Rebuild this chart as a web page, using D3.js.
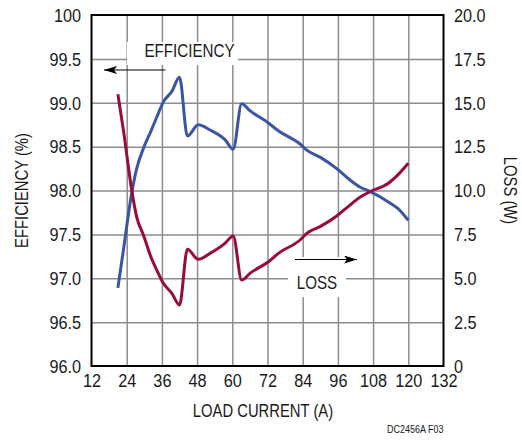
<!DOCTYPE html>
<html>
<head>
<meta charset="utf-8">
<script src="https://cdn.jsdelivr.net/npm/d3@7"></script>
<style>
  body { margin: 0; background: #fff; }
  svg { display: block; }
  text { font-family: "Liberation Sans", Arial, Helvetica, sans-serif; fill: #1a1a1a; }
</style>
</head>
<body>
<svg id="chart" width="522" height="440"></svg>
<script>
// load current (A) shared by both curves
const current = [21, 23, 25.7, 27.4, 29.7, 32.3, 34.3, 36.5, 39.4, 42, 44.7, 48.4, 52.4, 57.5, 60.3,
    63.2, 66, 72.3, 75.7, 83.1, 85.4, 89.9, 95.6, 100.1, 103.5, 106.9, 113.2, 116.6, 120];
// efficiency (%) - left axis
const efficiency = [96.89, 97.35, 97.97, 98.25, 98.48, 98.68, 98.84, 99.01, 99.13, 99.29, 98.62, 98.75,
    98.69, 98.58, 98.47, 98.99, 98.91, 98.77, 98.68, 98.53, 98.46, 98.38, 98.25, 98.12, 98.04, 97.99,
    97.87, 97.79, 97.66];
// power loss (W) - right axis
const loss = [15.48, 13.3, 10.03, 8.5, 7.46, 6.2, 5.45, 4.71, 4.14, 3.48, 6.65, 6.08, 6.42, 6.99, 7.41,
    4.90, 5.28, 5.94, 6.42, 7.18, 7.56, 7.94, 8.55, 9.17, 9.61, 9.93, 10.41, 10.92, 11.55];

const xTicks = [12, 24, 36, 48, 60, 72, 84, 96, 108, 120, 132];
const effTicks = [96, 96.5, 97, 97.5, 98, 98.5, 99, 99.5, 100];
const lossTicks = [0, 2.5, 5, 7.5, 10, 12.5, 15, 17.5, 20];

const marginLeft = 91.5, marginTop = 15, width = 352, height = 351;

const svg = d3.select('#chart');
const g = svg.append('g').attr('transform', `translate(${marginLeft},${marginTop})`);

const x = d3.scaleLinear().domain([12, 132]).range([0, width]);
const yEff = d3.scaleLinear().domain([96, 100]).range([height, 0]);
const yLoss = d3.scaleLinear().domain([0, 20]).range([height, 0]);

// grid lines
const gridColor = '#8d8d8d';
g.append('g')
    .attr('transform', `translate(0,${height})`)
    .call(d3.axisBottom(x).tickValues(xTicks.slice(1, -1)).tickSize(-height).tickFormat(''))
    .call(a => a.select('.domain').remove())
    .call(a => a.selectAll('line').attr('stroke', gridColor).attr('stroke-width', 1.5));
g.append('g')
    .call(d3.axisLeft(yEff).tickValues(effTicks.slice(1, -1)).tickSize(-width).tickFormat(''))
    .call(a => a.select('.domain').remove())
    .call(a => a.selectAll('line').attr('stroke', gridColor).attr('stroke-width', 1.5));

// white boxes behind the curve labels (they cut the grid)
g.append('rect').attr('x', 127 - marginLeft).attr('y', 42 - marginTop).attr('width', 111).attr('height', 23).attr('fill', '#fff');
g.append('rect').attr('x', 288 - marginLeft).attr('y', 257 - marginTop).attr('width', 58).attr('height', 40).attr('fill', '#fff');

// curves
const rows = current.map((c, i) => ({c: c, e: efficiency[i], l: loss[i]}));
g.append('path')
    .datum(rows)
    .attr('fill', 'none')
    .attr('stroke', '#3b55a6')
    .attr('stroke-width', 3)
    .attr('stroke-linejoin', 'round')
    .attr('d', d3.line().x(d => x(d.c)).y(d => yEff(d.e)).curve(d3.curveMonotoneX));
g.append('path')
    .datum(rows)
    .attr('fill', 'none')
    .attr('stroke', '#990b3c')
    .attr('stroke-width', 3)
    .attr('stroke-linejoin', 'round')
    .attr('d', d3.line().x(d => x(d.c)).y(d => yLoss(d.l)).curve(d3.curveMonotoneX));

// plot frame
g.append('rect')
    .attr('width', width).attr('height', height)
    .attr('fill', 'none').attr('stroke', '#000').attr('stroke-width', 2);

// tick labels
const tickFont = '17.5px', tickSqueeze = 'scale(0.93,1)';
g.append('g')
    .attr('transform', `translate(0,${height})`)
    .call(d3.axisBottom(x).tickValues(xTicks).tickSize(0).tickFormat(d3.format('d')))
    .call(a => a.select('.domain').remove())
    .call(a => a.selectAll('text')
        .attr('y', 21.5).attr('dy', null)
        .attr('font-size', tickFont).attr('font-family', null).attr('fill', '#1a1a1a')
        .attr('transform', tickSqueeze));
g.append('g')
    .call(d3.axisLeft(yEff).tickValues(effTicks).tickSize(0)
        .tickFormat(d => d === 100 ? '100' : d.toFixed(1)))
    .call(a => a.select('.domain').remove())
    .call(a => a.selectAll('text')
        .attr('x', -11.2).attr('dy', '0.36em')
        .attr('font-size', tickFont).attr('font-family', null).attr('fill', '#1a1a1a')
        .attr('transform', tickSqueeze));
g.append('g')
    .attr('transform', `translate(${width},0)`)
    .call(d3.axisRight(yLoss).tickValues(lossTicks).tickSize(0)
        .tickFormat(d => d === 0 ? '0' : d.toFixed(1)))
    .call(a => a.select('.domain').remove())
    .call(a => a.selectAll('text')
        .attr('x', 11.3).attr('dy', '0.36em')
        .attr('font-size', tickFont).attr('font-family', null).attr('fill', '#1a1a1a')
        .attr('transform', tickSqueeze));

// axis titles
const titleFont = '18.5px';
svg.append('text')
    .attr('transform', 'translate(263,416.5) scale(0.8,1)')
    .attr('text-anchor', 'middle').attr('font-size', titleFont)
    .text('LOAD CURRENT (A)');
svg.append('text')
    .attr('transform', 'translate(28,190.5) rotate(-90) scale(0.8,1)')
    .attr('text-anchor', 'middle').attr('font-size', titleFont)
    .text('EFFICIENCY (%)');
svg.append('text')
    .attr('transform', 'translate(503.5,190.5) rotate(90) scale(0.8,1)')
    .attr('text-anchor', 'middle').attr('font-size', titleFont)
    .text('LOSS (W)');

// curve labels and arrows
svg.append('defs').append('marker')
    .attr('id', 'head')
    .attr('viewBox', '0 0 13 8')
    .attr('refX', 13).attr('refY', 4)
    .attr('markerWidth', 13).attr('markerHeight', 8)
    .attr('markerUnits', 'userSpaceOnUse')
    .attr('orient', 'auto')
    .append('path').attr('d', 'M0,0L13,4L0,8L3,4Z').attr('fill', '#000');

svg.append('text')
    .attr('transform', 'translate(189.5,57.3) scale(0.82,1)')
    .attr('text-anchor', 'middle').attr('font-size', titleFont)
    .text('EFFICIENCY');
svg.append('line')
    .attr('x1', 165.5).attr('y1', 70).attr('x2', 104).attr('y2', 70)
    .attr('stroke', '#000').attr('stroke-width', 1.2)
    .attr('marker-end', 'url(#head)');

svg.append('text')
    .attr('transform', 'translate(317,288.5) scale(0.82,1)')
    .attr('text-anchor', 'middle').attr('font-size', titleFont)
    .text('LOSS');
svg.append('line')
    .attr('x1', 295).attr('y1', 259.5).attr('x2', 357).attr('y2', 259.5)
    .attr('stroke', '#000').attr('stroke-width', 1.2)
    .attr('marker-end', 'url(#head)');

// figure id
svg.append('text')
    .attr('transform', 'translate(443.5,432.7) scale(0.9,1)')
    .attr('text-anchor', 'end').attr('font-size', '10px')
    .text('DC2456A F03');
</script>
</body>
</html>
